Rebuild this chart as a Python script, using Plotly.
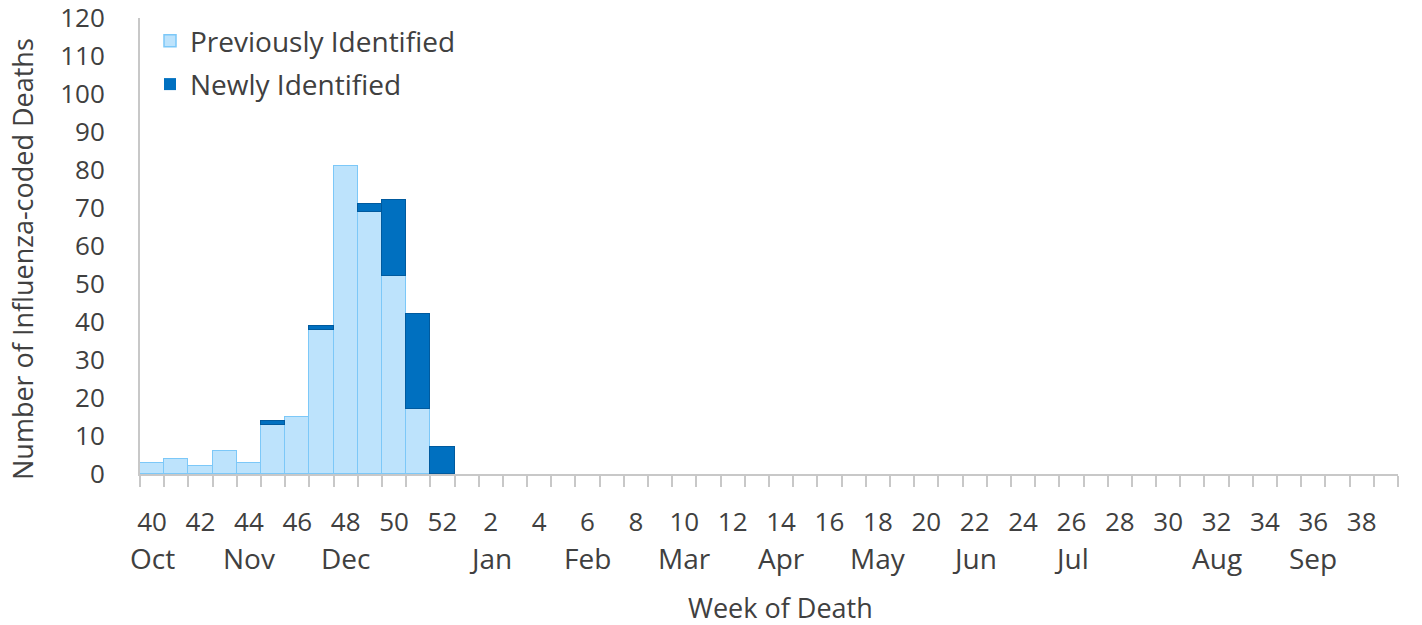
import plotly.graph_objects as go

weeks = list(range(40, 53)) + list(range(1, 40))
previously = [3, 4, 2, 6, 3, 13, 15, 38, 81, 69, 52, 17, 0] + [0] * 39
newly = [0, 0, 0, 0, 0, 1, 0, 1, 0, 2, 20, 25, 7] + [0] * 39
month_labels = ["Oct", "Nov", "Dec", "Jan", "Feb", "Mar", "Apr", "May", "Jun", "Jul", "Aug", "Sep"]
month_weeks = [40, 44, 48, 2, 6, 10, 14, 18, 22, 26, 32, 36]
y_ticks = list(range(0, 121, 10))

FONT = "Open Sans"
FS = 26
TXT = "#404040"
W, H = 1422, 625
ML, MR, MT, MB = 140, 24, 18, 151
PW, PH = W - ML - MR, H - MT - MB

x = list(range(len(weeks)))
fig = go.Figure()
fig.add_trace(go.Bar(
    x=x, y=previously, name="Previously Identified", legendgroup="a",
    marker=dict(color="#BDE3FC",
                line=dict(color="#7CC8F8", width=[1.5 if v else 0 for v in previously])),
))
fig.add_trace(go.Bar(
    x=x, y=newly, name="Newly Identified", legendgroup="b",
    marker=dict(color="#0070C0",
                line=dict(color="#005A9E", width=[1.5 if v else 0 for v in newly])),
))

tickvals = x[::2]
ticktext = [str(weeks[i]) for i in tickvals]

annotations = []
for lab, wk in zip(month_labels, month_weeks):
    annotations.append(dict(
        x=weeks.index(wk), xref="x", y=-(558 - (MT + PH)) / PH, yref="paper",
        text=lab, showarrow=False, yanchor="middle", xanchor="center",
        font=dict(family=FONT, size=28, color=TXT),
    ))
annotations.append(dict(
    x=(780 - ML) / PW, xref="paper", y=-(607 - (MT + PH)) / PH, yref="paper",
    text="Week of Death", showarrow=False, yanchor="middle", xanchor="center",
    font=dict(family=FONT, size=27, color=TXT),
))
annotations.append(dict(
    x=(22 - ML) / PW, xref="paper", y=((MT + PH) - 259) / PH, yref="paper",
    text="Number of Influenza-coded Deaths", showarrow=False, textangle=-90,
    yanchor="middle", xanchor="center",
    font=dict(family=FONT, size=27, color=TXT),
))

fig.update_layout(
    width=W, height=H,
    margin=dict(l=ML, r=MR, t=MT, b=MB, autoexpand=False),
    barmode="stack", bargap=0,
    plot_bgcolor="white", paper_bgcolor="white",
    font=dict(family=FONT, size=FS, color=TXT),
    showlegend=True,
    legend=dict(
        x=(150 - ML) / PW, y=((MT + PH) - 16) / PH, xanchor="left", yanchor="top",
        traceorder="grouped", tracegroupgap=4,
        font=dict(family=FONT, size=28, color=TXT),
        bgcolor="rgba(0,0,0,0)",
    ),
    annotations=annotations,
    xaxis=dict(
        range=[-0.5, len(weeks) - 0.5],
        tickmode="array", tickvals=tickvals, ticktext=ticktext,
        ticks="outside", ticklen=0, tickcolor="rgba(0,0,0,0)",
        ticklabelstandoff=24,
        tickfont=dict(family=FONT, size=FS, color=TXT),
        showline=True, linecolor="#C8C8C8", linewidth=2,
        showgrid=False, zeroline=False,
        minor=dict(ticks="outside", tickmode="array",
                   tickvals=[i - 0.5 for i in range(len(weeks) + 1)],
                   ticklen=11, tickwidth=2, tickcolor="#C8C8C8", showgrid=False),
    ),
    yaxis=dict(
        range=[0, 120.02], tickmode="array", tickvals=y_ticks,
        ticktext=[str(v) for v in y_ticks],
        showline=True, linecolor="#C8C8C8", linewidth=2,
        showgrid=False, zeroline=False,
        ticks="", ticklabelstandoff=28, ticklabeloverflow="allow",
        tickfont=dict(family=FONT, size=FS, color=TXT),
    ),
)

fig.write_html("out.html", post_script="document.body.style.margin='0';",
               config={"displayModeBar": False})
